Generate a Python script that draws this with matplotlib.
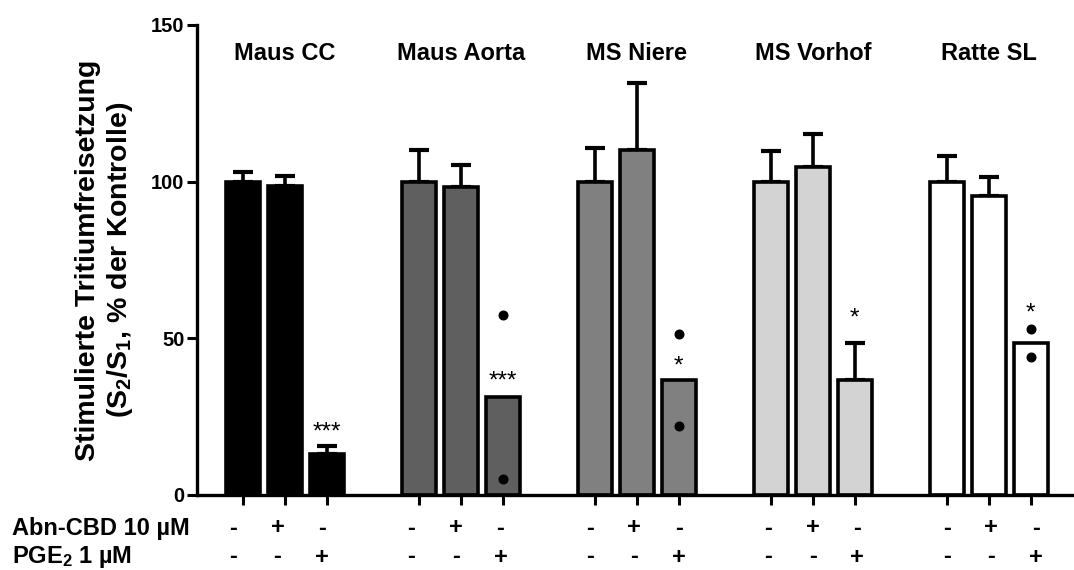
import numpy as np
import matplotlib
matplotlib.use("Agg")
import matplotlib.pyplot as plt
from matplotlib.transforms import blended_transform_factory

plt.rcParams["font.family"] = ["Liberation Sans", "DejaVu Sans"]
plt.rcParams["font.weight"] = "bold"
plt.rcParams["mathtext.fontset"] = "custom"
plt.rcParams["mathtext.rm"] = "Liberation Sans:bold"
plt.rcParams["mathtext.default"] = "rm"

# ---- data -------------------------------------------------------------
groups = ["Maus CC", "Maus Aorta", "MS Niere", "MS Vorhof", "Ratte SL"]
means = [
    [100.0, 98.5, 13.2],
    [100.0, 98.2, 31.3],
    [100.0, 110.0, 36.7],
    [100.0, 104.6, 36.7],
    [100.0, 95.3, 48.5],
]
sem = [
    [3.0, 3.3, 2.3],
    [10.0, 7.0, np.nan],
    [10.8, 21.5, np.nan],
    [9.7, 10.6, 11.8],
    [8.3, 6.2, np.nan],
]
# single values shown for the n=2 groups (third bar)
points = [
    [],
    [57.5, 5.1],
    [51.3, 22.1],
    [],
    [52.9, 44.1],
]
significance = ["***", "***", "*", "*", "*"]
abn_cbd = ["-", "+", "-"]
pge2 = ["-", "-", "+"]
fill_colors = ["#000000", "#5f5f5f", "#808080", "#d3d3d3", "#ffffff"]
yticks = [0, 50, 100, 150]

# ---- layout -----------------------------------------------------------
W, H = 1074, 570
fig = plt.figure(figsize=(W / 100, H / 100), dpi=100)
ax = fig.add_axes([197 / W, 75 / H, 877 / W, 470 / H])

group_step = 4.19
bar_w = 0.80
star_y = [20.0, 36.2, 40.9, 56.2, 57.8]

lw = 2.6
xpos_all = []
for g, name in enumerate(groups):
    xs = g * group_step + np.arange(3)
    xpos_all.extend(xs)
    err = np.array(sem[g], dtype=float)
    ok = ~np.isnan(err)
    ax.errorbar(xs[ok], np.array(means[g])[ok],
                yerr=[np.zeros(ok.sum()), err[ok]],
                fmt="none", ecolor="black", elinewidth=2.6,
                capsize=7.5, capthick=3.0, zorder=1)
    ax.bar(xs, means[g], width=bar_w, color=fill_colors[g],
           edgecolor="black", linewidth=lw, zorder=2)
    if points[g]:
        ax.plot([xs[2]] * len(points[g]), points[g], "o", color="black",
                markersize=6.2, zorder=3)
    ax.text(xs[2], star_y[g], significance[g], ha="center", va="center",
            fontsize=17.5, fontweight="normal", zorder=4)
    ax.text(xs[1], 141, name, ha="center", va="center", fontsize=17,
            fontweight="bold")

ax.set_xlim(-1.095, 19.79)
ax.set_ylim(0, 150)
ax.set_yticks(yticks)
ax.set_yticklabels([str(t) for t in yticks], fontsize=14.5, fontweight="bold")
ax.set_xticks(xpos_all)
ax.set_xticklabels([])
ax.tick_params(axis="both", length=7, width=2.2, direction="out")
ax.tick_params(axis="y", pad=2)
for s in ["top", "right"]:
    ax.spines[s].set_visible(False)
for s in ["left", "bottom"]:
    ax.spines[s].set_linewidth(2.4)

ax.set_ylabel("Stimulierte Tritiumfreisetzung\n(S$_2$/S$_1$, % der Kontrolle)",
              fontsize=20.5, fontweight="bold", linespacing=1.2)
ax.yaxis.set_label_coords(-62 / 877, 0.5)

# treatment table below the axis
fig.text(12 / W, 1 - 528 / H, "Abn-CBD 10 µM", ha="left", va="center",
         fontsize=17, fontweight="bold")
fig.text(12 / W, 1 - 557 / H, "PGE$_2$ 1 µM", ha="left", va="center",
         fontsize=17, fontweight="bold")
tr = blended_transform_factory(ax.transData, fig.transFigure)
for g in range(len(groups)):
    for i in range(3):
        sx = -0.238 + g * 4.25 + i * 1.06
        ax.text(sx, 1 - 528 / H, abn_cbd[i], transform=tr, ha="center",
                va="center", fontsize=17, fontweight="bold", clip_on=False)
        ax.text(sx, 1 - 557 / H, pge2[i], transform=tr, ha="center",
                va="center", fontsize=17, fontweight="bold", clip_on=False)

fig.savefig("out.png", dpi=100, facecolor="white")
